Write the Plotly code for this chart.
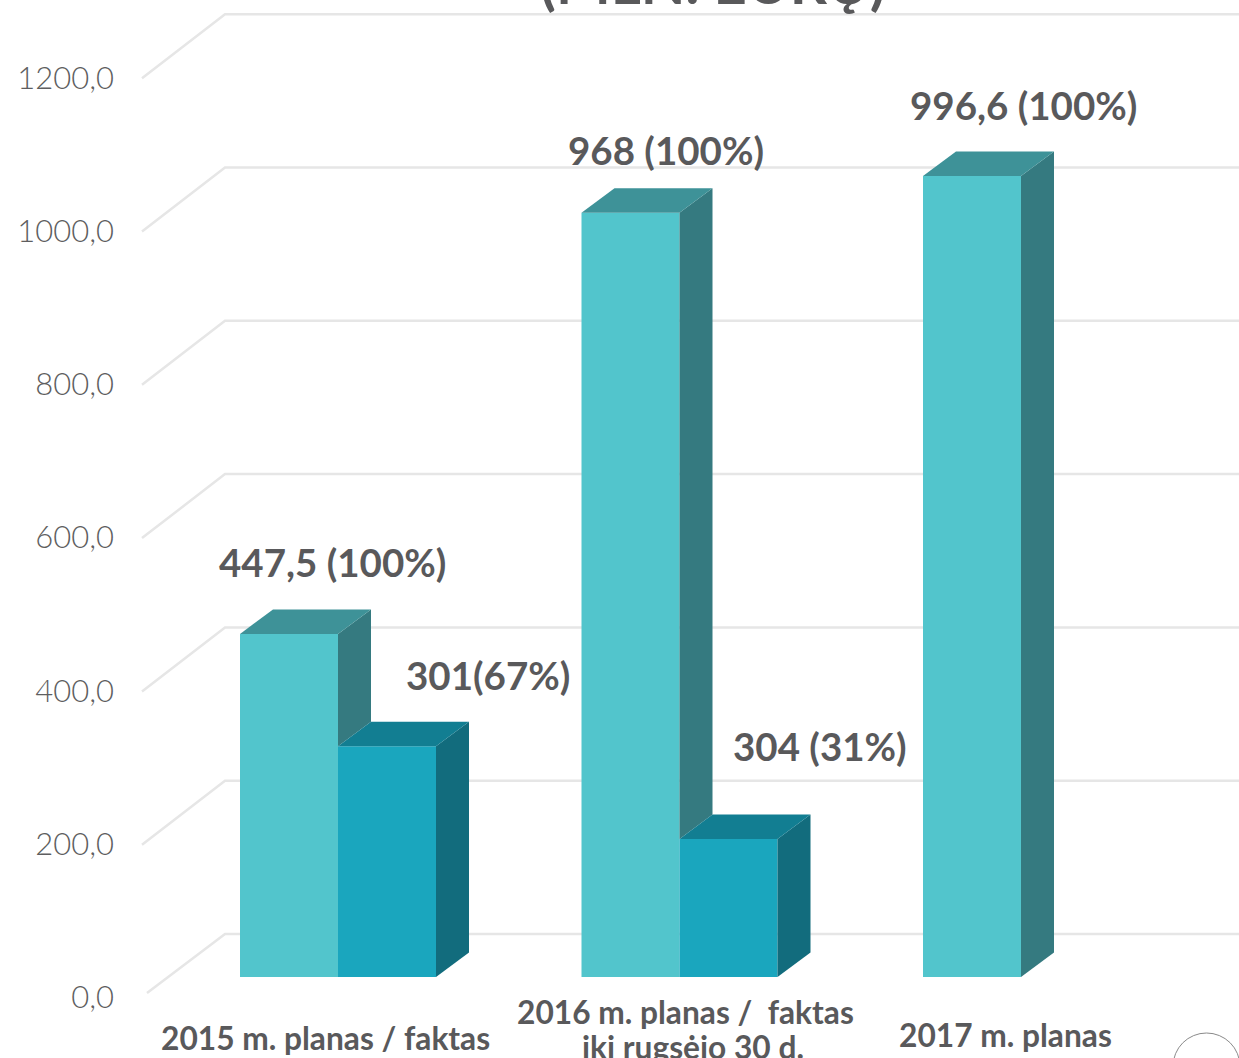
import plotly.graph_objects as go

# ---- data ----
groups = ["2015", "2016", "2017"]
group_pos = [0, 1, 2]
plan_drawn = [447.5, 997, 1045]
fact_drawn = [301, 180, None]
plan_labels = ["447,5 (100%)", "968 (100%)", "996,6 (100%)"]
fact_labels = ["301(67%)", "304 (31%)", None]
category_labels = [["2015 m. planas / faktas"], ["2016 m. planas /  faktas", "iki rugsėjo 30 d."], ["2017 m. planas"]]
tick_vals = [0, 200, 400, 600, 800, 1000, 1200]
tick_text = ["0,0", "200,0", "400,0", "600,0", "800,0", "1000,0", "1200,0"]
title_text = "(MLN. EURŲ)"

# ---- geometry of the picture ----
W, H = 1239, 1058
PX_PER_UNIT = 0.7665
PITCH = 341.5
BASE_X = 338
BASE_Y = 977
BACK_Y = 934
LABEL_Y = 997.5
x_of = lambda px: (px - BASE_X) / PITCH
y_range = lambda zero_px: [(zero_px - H) / PX_PER_UNIT, zero_px / PX_PER_UNIT]
BAR_W = 98 / PITCH
DX = 33 / PITCH
DY = 24.5 / PX_PER_UNIT

C_PLAN = ("#52C5CC", "#3E9298", "#357A80")
C_FACT = ("#1AA6BE", "#127E92", "#126C7D")
TEXT = "#59595B"
FONT = "Lato"

fig = go.Figure()
fig.add_bar(x=group_pos, y=plan_drawn, marker=dict(color=C_PLAN[0], line_width=0), showlegend=False)
fig.add_bar(x=group_pos, y=fact_drawn, marker=dict(color=C_FACT[0], line_width=0), showlegend=False)


def poly(xs, ys, color):
    fig.add_scatter(x=xs, y=ys, mode="lines", fill="toself", fillcolor=color,
                    line=dict(width=0, color=color), showlegend=False, hoverinfo="skip")


for g, p, f in zip(group_pos, plan_drawn, fact_drawn):
    xl, xm = g - BAR_W, g
    floor = f if f is not None else 0
    poly([xm, xm + DX, xm + DX, xm, xm], [floor, floor + DY, p + DY, p, floor], C_PLAN[2])
    poly([xl, xm, xm + DX, xl + DX, xl], [p, p, p + DY, p + DY, p], C_PLAN[1])
    if f is not None:
        xr = g + BAR_W
        poly([xr, xr + DX, xr + DX, xr, xr], [0, DY, f + DY, f, 0], C_FACT[2])
        poly([xm, xr, xr + DX, xm + DX, xm], [f, f, f + DY, f + DY, f], C_FACT[1])

# invisible trace so that the label axis is drawn
fig.add_scatter(x=[group_pos[0]] * len(tick_vals), y=tick_vals, yaxis="y2", mode="markers",
                marker=dict(opacity=0), showlegend=False, hoverinfo="skip")

# back wall grid lines with the diagonal on the left wall
shapes = []
wall_offset = (BASE_Y - BACK_Y) / PX_PER_UNIT
for v in tick_vals:
    top = v + wall_offset
    start_px, drop_px = (147, 59) if v == 0 else (142, 64)
    shapes.append(dict(type="path", layer="below", xref="x", yref="y",
                       path=f"M {x_of(start_px)} {top - drop_px / PX_PER_UNIT} L {x_of(225)} {top} L {x_of(W + 5)} {top}",
                       line=dict(color="#E6E6E6", width=2.5)))
# the partly visible circle in the bottom right corner
shapes.append(dict(type="circle", xref="paper", yref="paper",
                   x0=1173 / W, x1=1240 / W, y0=1 - 1100 / H, y1=1 - 1033 / H,
                   line=dict(color="#8A8A8A", width=1)))

annotations = []
value_offsets = [(43, 72), (101, 71), (35, 63), (91, 93), (51, 71)]
entries = []
for g, p, f, pl, fl in zip(group_pos, plan_drawn, fact_drawn, plan_labels, fact_labels):
    entries.append((g - BAR_W / 2, p, pl))
    if f is not None:
        entries.append((g + BAR_W / 2, f, fl))
for (x, y, t), (sx, sy) in zip(entries, value_offsets):
    annotations.append(dict(x=x, y=y, xref="x", yref="y", text=t, showarrow=False,
                            xshift=sx, yshift=sy, font=dict(family=FONT, size=38.5, color=TEXT, weight="bold")))
for g, lines, shifts, rows in zip(group_pos, category_labels, [[-13], [6, 13], [-16]], [[1038], [1012, 1047], [1035]]):
    for t, sx, py in zip(lines, shifts, rows):
        annotations.append(dict(x=g, y=1 - py / H, xref="x", yref="paper", xshift=sx, text=t, showarrow=False,
                                yanchor="middle", align="center",
                                font=dict(family=FONT, size=31.7, color=TEXT, weight="bold")))
annotations.append(dict(x=713 / W, y=1 - 18 / H, xref="paper", yref="paper", yanchor="bottom", text=title_text,
                        showarrow=False, font=dict(family=FONT, size=58, color=TEXT, weight="bold")))

fig.update_layout(
    width=W, height=H, margin=dict(l=0, r=0, t=0, b=0),
    paper_bgcolor="white", plot_bgcolor="white",
    barmode="group", bargap=1 - 2 * 98 / PITCH, bargroupgap=0,
    showlegend=False, shapes=shapes, annotations=annotations,
    xaxis=dict(range=[x_of(0), x_of(W)], visible=False, fixedrange=True),
    yaxis=dict(range=y_range(BASE_Y), visible=False, fixedrange=True),
    yaxis2=dict(range=y_range(LABEL_Y), overlaying="y", anchor="free", position=114 / W, side="left",
                tickvals=tick_vals, ticktext=tick_text, showgrid=False, zeroline=False, showline=False,
                ticks="", fixedrange=True,
                tickfont=dict(family=FONT, size=31, color="#5E5E60", weight=300)),
)
fig.write_html("out.html", config=dict(displayModeBar=False),
               post_script="document.body.style.margin='0';")
